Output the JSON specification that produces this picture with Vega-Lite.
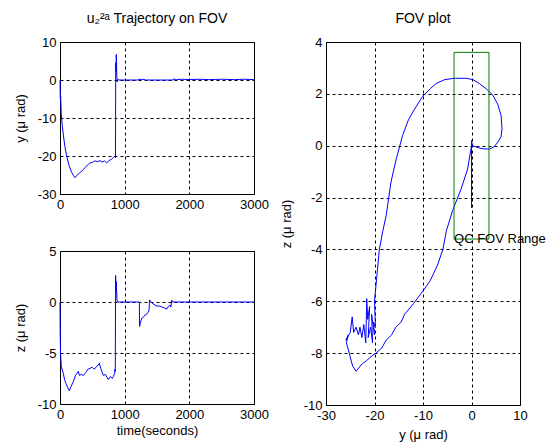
{
  "$schema": "https://vega.github.io/schema/vega-lite/v6.json",
  "padding": {"left": 13, "top": 11, "right": 0, "bottom": 0},
  "background": "white",
  "config": {
    "font": "Liberation Sans",
    "view": {"stroke": "black", "strokeWidth": 1},
    "axis": {
      "domain": false,
      "ticks": false,
      "grid": true,
      "gridColor": "black",
      "gridOpacity": 1,
      "gridDash": [3, 3],
      "gridWidth": 1,
      "labelFont": "Liberation Sans",
      "labelFontSize": 13,
      "labelColor": "black",
      "labelPadding": 4,
      "labelFlush": false,
      "labelOverlap": false,
      "labelBound": false,
      "format": "d",
      "titleFont": "Liberation Sans",
      "titleFontSize": 13,
      "titleFontWeight": "normal",
      "titleColor": "black",
      "labelExpr": "replace(datum.label, '\u2212', '-')"
    },
    "axisY": {"titlePadding": 10},
    "axisX": {"titlePadding": 3},
    "title": {"font": "Liberation Sans", "fontSize": 14, "fontWeight": "normal", "color": "black", "frame": "group", "offset": 10}
  },
  "datasets": {
    "ts1": [
      {"t": 0, "v": 0}, {"t": 5, "v": -5}, {"t": 10, "v": -4.2}, {"t": 20, "v": -9}, {"t": 35, "v": -12},
      {"t": 51, "v": -14.3}, {"t": 75, "v": -17.5}, {"t": 103, "v": -20}, {"t": 140, "v": -22.5},
      {"t": 180, "v": -24.3}, {"t": 210, "v": -25.2}, {"t": 232, "v": -25.7}, {"t": 250, "v": -25.3},
      {"t": 280, "v": -24.8}, {"t": 320, "v": -24.2}, {"t": 360, "v": -23.6}, {"t": 400, "v": -22.8},
      {"t": 440, "v": -22.2}, {"t": 464, "v": -21.8}, {"t": 500, "v": -21.7}, {"t": 540, "v": -21.3},
      {"t": 580, "v": -21.5}, {"t": 618, "v": -21.2}, {"t": 650, "v": -21.6}, {"t": 690, "v": -21.3},
      {"t": 721, "v": -21.8}, {"t": 760, "v": -21.2}, {"t": 800, "v": -20.8}, {"t": 830, "v": -20.3},
      {"t": 855, "v": -20.0}, {"t": 858, "v": -20.5}, {"t": 862, "v": 4.5}, {"t": 866, "v": 2},
      {"t": 870, "v": 6.7}, {"t": 874, "v": 5}, {"t": 878, "v": 1}, {"t": 885, "v": -0.5},
      {"t": 895, "v": 0.2}, {"t": 910, "v": 0}, {"t": 1200, "v": 0}, {"t": 1220, "v": 0.2},
      {"t": 1260, "v": 0.1}, {"t": 1300, "v": 0.2}, {"t": 1320, "v": 0}, {"t": 1750, "v": 0},
      {"t": 1760, "v": 0.3}, {"t": 1800, "v": 0.1}, {"t": 1900, "v": 0.2}, {"t": 2000, "v": 0.1},
      {"t": 2150, "v": 0.2}, {"t": 2300, "v": 0.1}, {"t": 2500, "v": 0.2}, {"t": 2700, "v": 0.1},
      {"t": 2850, "v": 0.2}, {"t": 3000, "v": 0.1}
    ],
    "ts2": [
      {"t": 0, "v": 0}, {"t": 3, "v": -3}, {"t": 8, "v": -5}, {"t": 20, "v": -6.3}, {"t": 51, "v": -7},
      {"t": 70, "v": -7.6}, {"t": 93, "v": -8.0}, {"t": 120, "v": -8.4}, {"t": 144, "v": -8.7},
      {"t": 170, "v": -8.3}, {"t": 206, "v": -7.8}, {"t": 240, "v": -7.2}, {"t": 260, "v": -7.0},
      {"t": 283, "v": -6.8}, {"t": 300, "v": -7.2}, {"t": 330, "v": -7.1}, {"t": 361, "v": -7.2},
      {"t": 400, "v": -6.9}, {"t": 430, "v": -6.6}, {"t": 464, "v": -6.5}, {"t": 500, "v": -6.4},
      {"t": 530, "v": -6.6}, {"t": 567, "v": -6.3}, {"t": 590, "v": -6.2}, {"t": 608, "v": -6.0},
      {"t": 630, "v": -6.5}, {"t": 670, "v": -7.2}, {"t": 700, "v": -7.1}, {"t": 747, "v": -7.6},
      {"t": 780, "v": -7.3}, {"t": 810, "v": -7.5}, {"t": 825, "v": -7.3}, {"t": 845, "v": -7.0},
      {"t": 850, "v": -6.6}, {"t": 855, "v": -6.8}, {"t": 860, "v": 2.6}, {"t": 866, "v": 1.0},
      {"t": 870, "v": 2.0}, {"t": 880, "v": 0.3}, {"t": 887, "v": 0}, {"t": 1227, "v": 0},
      {"t": 1230, "v": -2.4}, {"t": 1245, "v": -2.0}, {"t": 1263, "v": -1.6}, {"t": 1290, "v": -1.5},
      {"t": 1310, "v": -1.3}, {"t": 1340, "v": -1.2}, {"t": 1360, "v": -1.0}, {"t": 1376, "v": -0.9},
      {"t": 1385, "v": 0.2}, {"t": 1400, "v": 0.1}, {"t": 1420, "v": -0.1}, {"t": 1443, "v": -0.2},
      {"t": 1470, "v": -0.3}, {"t": 1500, "v": -0.4}, {"t": 1546, "v": -0.4}, {"t": 1580, "v": -0.5},
      {"t": 1620, "v": -0.6}, {"t": 1650, "v": -0.7}, {"t": 1680, "v": -0.4}, {"t": 1700, "v": -0.3},
      {"t": 1715, "v": -0.5}, {"t": 1727, "v": 0.2}, {"t": 1735, "v": 0}, {"t": 3000, "v": 0}
    ],
    "fov": [
      {"i": 1, "y": 0, "z": 0}, {"i": 2, "y": -0.8, "z": -0.9}, {"i": 3, "y": -2.2, "z": -1.7},
      {"i": 4, "y": -3.9, "z": -2.5}, {"i": 5, "y": -5.2, "z": -3.3}, {"i": 6, "y": -5.9, "z": -4.0},
      {"i": 7, "y": -7.0, "z": -4.6}, {"i": 8, "y": -8.5, "z": -5.2}, {"i": 9, "y": -10, "z": -5.6},
      {"i": 10, "y": -12, "z": -6.1}, {"i": 11, "y": -13.8, "z": -6.5}, {"i": 12, "y": -14.5, "z": -6.8},
      {"i": 13, "y": -15.6, "z": -7.0}, {"i": 14, "y": -16.5, "z": -7.3}, {"i": 15, "y": -17.6, "z": -7.5},
      {"i": 16, "y": -18.5, "z": -7.8}, {"i": 17, "y": -19.7, "z": -8.0}, {"i": 18, "y": -20.5, "z": -8.1},
      {"i": 19, "y": -21.7, "z": -8.3}, {"i": 20, "y": -22.5, "z": -8.4}, {"i": 21, "y": -23.8, "z": -8.7},
      {"i": 22, "y": -24.5, "z": -8.5}, {"i": 23, "y": -24.8, "z": -8.3}, {"i": 24, "y": -25.2, "z": -8.0},
      {"i": 25, "y": -25.8, "z": -7.6}, {"i": 26, "y": -25.4, "z": -7.3}, {"i": 27, "y": -25.9, "z": -7.5},
      {"i": 28, "y": -25.0, "z": -7.2}, {"i": 29, "y": -24.6, "z": -6.6}, {"i": 30, "y": -24.3, "z": -7.2},
      {"i": 31, "y": -23.8, "z": -7.0}, {"i": 32, "y": -23.3, "z": -7.3}, {"i": 33, "y": -23.0, "z": -7.0},
      {"i": 34, "y": -22.6, "z": -7.4}, {"i": 35, "y": -22.2, "z": -6.9}, {"i": 36, "y": -21.8, "z": -7.6},
      {"i": 37, "y": -21.6, "z": -5.9}, {"i": 38, "y": -21.4, "z": -6.7}, {"i": 39, "y": -21.0, "z": -6.2},
      {"i": 40, "y": -21.3, "z": -7.4}, {"i": 41, "y": -20.8, "z": -7.0}, {"i": 42, "y": -20.4, "z": -7.6},
      {"i": 43, "y": -20.6, "z": -6.5}, {"i": 44, "y": -20.0, "z": -7.3}, {"i": 45, "y": -20.2, "z": -6.8},
      {"i": 46, "y": -19.8, "z": -7.0}, {"i": 47, "y": -19.9, "z": -6.5}, {"i": 48, "y": -20.0, "z": -6.0},
      {"i": 49, "y": -19.5, "z": -5.0}, {"i": 50, "y": -19.0, "z": -4.0}, {"i": 51, "y": -18.3, "z": -3.3},
      {"i": 52, "y": -17.6, "z": -2.7}, {"i": 53, "y": -16.6, "z": -1.4}, {"i": 54, "y": -15.5, "z": -0.5},
      {"i": 55, "y": -14.2, "z": 0.4}, {"i": 56, "y": -13.0, "z": 1.0}, {"i": 57, "y": -12.1, "z": 1.3},
      {"i": 58, "y": -10.1, "z": 1.9}, {"i": 59, "y": -8.5, "z": 2.2}, {"i": 60, "y": -7.3, "z": 2.4},
      {"i": 61, "y": -5.5, "z": 2.55}, {"i": 62, "y": -3.5, "z": 2.6}, {"i": 63, "y": -1.1, "z": 2.6},
      {"i": 64, "y": 0.3, "z": 2.55}, {"i": 65, "y": 1.6, "z": 2.4}, {"i": 66, "y": 3.0, "z": 2.2},
      {"i": 67, "y": 4.4, "z": 1.95}, {"i": 68, "y": 5.4, "z": 1.6}, {"i": 69, "y": 6.1, "z": 1.17},
      {"i": 70, "y": 6.3, "z": 0.65}, {"i": 71, "y": 6.1, "z": 0.35}, {"i": 72, "y": 5.4, "z": 0.13},
      {"i": 73, "y": 4.6, "z": -0.05}, {"i": 74, "y": 3.7, "z": -0.13}, {"i": 75, "y": 2.6, "z": -0.12},
      {"i": 76, "y": 1.6, "z": -0.09}, {"i": 77, "y": 0.2, "z": 0.0}, {"i": 78, "y": 0, "z": 0.2},
      {"i": 79, "y": 0, "z": -2.4}, {"i": 80, "y": 0, "z": 0.1}, {"i": 81, "y": 0, "z": -0.5},
      {"i": 82, "y": 0, "z": 0}
    ],
    "box": [
      {"i": 1, "y": -3.6, "z": -3.6}, {"i": 2, "y": -3.6, "z": 3.6}, {"i": 3, "y": 3.6, "z": 3.6},
      {"i": 4, "y": 3.6, "z": -3.6}, {"i": 5, "y": -3.6, "z": -3.6}
    ],
    "lbl": [{"y": -3.6, "z": -3.6, "text": "QC FOV Range"}]
  },
  "hconcat": [
    {
      "vconcat": [
        {
          "title": "u\u2082\u00b2\u1d43 Trajectory on FOV",
          "width": 194,
          "height": 152,
          "data": {"name": "ts1"},
          "mark": {"type": "line", "color": "#0000ff", "strokeWidth": 1},
          "encoding": {
            "x": {"field": "t", "type": "quantitative", "scale": {"domain": [0, 3000], "nice": false}, "axis": {"values": [0, 1000, 2000, 3000], "title": null}},
            "y": {"field": "v", "type": "quantitative", "scale": {"domain": [-30, 10], "nice": false, "zero": false}, "axis": {"values": [-30, -20, -10, 0, 10], "title": "y (\u03bc rad)"}}
          }
        },
        {
          "width": 194,
          "height": 153,
          "data": {"name": "ts2"},
          "mark": {"type": "line", "color": "#0000ff", "strokeWidth": 1},
          "encoding": {
            "x": {"field": "t", "type": "quantitative", "scale": {"domain": [0, 3000], "nice": false}, "axis": {"values": [0, 1000, 2000, 3000], "title": "time(seconds)"}},
            "y": {"field": "v", "type": "quantitative", "scale": {"domain": [-10, 5], "nice": false, "zero": false}, "axis": {"values": [-10, -5, 0, 5], "title": "z (\u03bc rad)"}}
          }
        }
      ],
      "spacing": 32
    },
    {
      "title": "FOV plot",
      "width": 194,
      "height": 363,
      "encoding": {
        "x": {"field": "y", "type": "quantitative", "scale": {"domain": [-30, 10], "nice": false, "zero": false}, "axis": {"values": [-30, -20, -10, 0, 10], "title": "y (\u03bc rad)", "titlePadding": 6}},
        "y": {"field": "z", "type": "quantitative", "scale": {"domain": [-10, 4], "nice": false, "zero": false}, "axis": {"values": [-10, -8, -6, -4, -2, 0, 2, 4], "title": "z (\u03bc rad)"}}
      },
      "layer": [
        {"data": {"name": "fov"}, "mark": {"type": "line", "color": "#0000ff", "strokeWidth": 1}, "encoding": {"order": {"field": "i", "type": "quantitative"}}},
        {"data": {"name": "box"}, "mark": {"type": "line", "color": "#008000", "strokeWidth": 1}, "encoding": {"order": {"field": "i", "type": "quantitative"}}},
        {"data": {"name": "lbl"}, "mark": {"type": "text", "align": "left", "baseline": "middle", "fontSize": 13, "color": "black", "font": "Liberation Sans"}, "encoding": {"text": {"field": "text"}}}
      ]
    }
  ],
  "spacing": 10
}
